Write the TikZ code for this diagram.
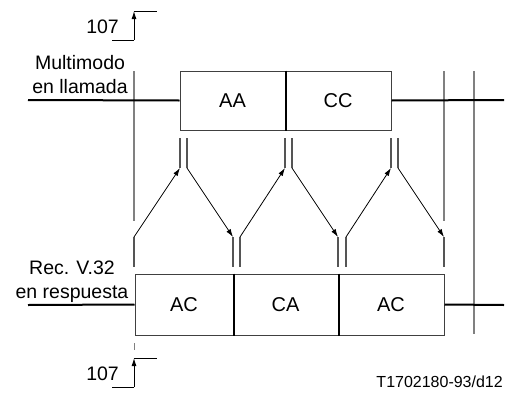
\documentclass[tikz,border=0pt]{standalone}
\usepackage{fontspec}
\setmainfont{Liberation Sans}
\usetikzlibrary{arrows.meta}
\definecolor{guide}{HTML}{808080}
\definecolor{edge}{HTML}{404040}
\definecolor{tick}{HTML}{555555}
\begin{document}
\begin{tikzpicture}[x=1pt,y=-1pt,
  lbl/.style={font=\fontsize{19.5}{24}\selectfont, inner sep=0pt},
  small/.style={font=\fontsize{16}{18}\selectfont, inner sep=0pt},
  seg/.style={draw=edge, line width=1pt, inner sep=0pt, font=\fontsize{20}{22}\selectfont},
  topseg/.style={seg, minimum height=59pt},
  botseg/.style={seg, minimum height=61pt},
  divider/.style={line width=2pt, black},
  wire/.style={line width=2pt, black},
  guideline/.style={line width=1.5pt, guide},
  stub/.style={line width=1.3pt, tick},
  sig/.style={line width=0.8pt, black, -{Latex[length=8pt,width=5pt]}},
  marker/.style={line width=1pt, black}]
\useasboundingbox (0,0) rectangle (506,394);

% guide lines
\draw[guideline] (134,71) -- (134,221);
\draw[guideline] (444,71) -- (444,221);
\draw[guideline] (474,71) -- (474,334);

% top row
\node[topseg, minimum width=105pt] (aa) at (232.5,100.5) {AA};
\node[topseg, minimum width=106pt] (cc) at (338,100.5) {CC};
\draw[divider] (aa.north east) -- (aa.south east);
\coordinate (tl) at (28,100);
\coordinate (tr) at (504,100);
\draw[wire] (tl) -- (aa.west);
\draw[wire] (cc.east) -- (tr);

% bottom row
\node[botseg, minimum width=98pt] (ac1) at (184,304.5) {AC};
\node[botseg, minimum width=105pt] (ca) at (285.5,304.5) {CA};
\node[botseg, minimum width=106pt] (ac2) at (391,304.5) {AC};
\draw[divider] (ac1.north east) -- (ac1.south east);
\draw[divider] (ca.north east) -- (ca.south east);
\coordinate (bl) at (28,305);
\coordinate (br) at (504,305);
\draw[wire] (bl) -- (ac1.west);
\draw[wire] (ac2.east) -- (br);

% stubs and signals
\foreach \n/\xb/\xt in {1/134/180, 2/240/285, 3/346/391} {
  \coordinate (ub\n) at (\xb,237);
  \coordinate (ut\n) at (\xt,168);
}
\foreach \n/\xt/\xb in {1/187/233, 2/292/338, 3/398/444} {
  \coordinate (dt\n) at (\xt,168);
  \coordinate (db\n) at (\xb,237);
}
\foreach \x in {180,187,285,292,391,398} {
  \draw[stub] (\x,138) -- (\x,168);
}
\foreach \x in {134,233,240,338,346,444} {
  \draw[stub] (\x,237) -- (\x,267);
}
\foreach \n in {1,2,3} {
  \draw[sig] (ub\n) -- (ut\n);
  \draw[sig] (dt\n) -- (db\n);
}

% labels
\node[lbl, align=center] (lab1) at (80,75) {Multimodo\\en llamada};
\node[lbl, align=center] (lab2) at (72,282) {Rec. V.32\\en respuesta};

% 107 markers
\node[lbl, anchor=base east] (n1) at (119,33) {107};
\coordinate (m1a) at (112,40);
\coordinate (m1b) at (134,40);
\coordinate (m1c) at (134,11);
\coordinate (m1d) at (157,11);
\draw[marker] (m1a) -- (m1b);
\draw[marker, -{Latex[length=8pt,width=5pt]}] (m1b) -- (m1c);
\draw[marker] (m1c) -- (m1d);

\draw[guideline, line width=1pt] (134,343) -- (134,350);
\node[lbl, anchor=base east] (n2) at (119,380) {107};
\coordinate (m2a) at (112,387);
\coordinate (m2b) at (134,387);
\coordinate (m2c) at (134,358);
\coordinate (m2d) at (157,358);
\draw[marker] (m2a) -- (m2b);
\draw[marker, -{Latex[length=8pt,width=5pt]}] (m2b) -- (m2c);
\draw[marker] (m2c) -- (m2d);

\node[small, anchor=base east] (ref) at (503,387) {T1702180-93/d12};
\end{tikzpicture}
\end{document}
